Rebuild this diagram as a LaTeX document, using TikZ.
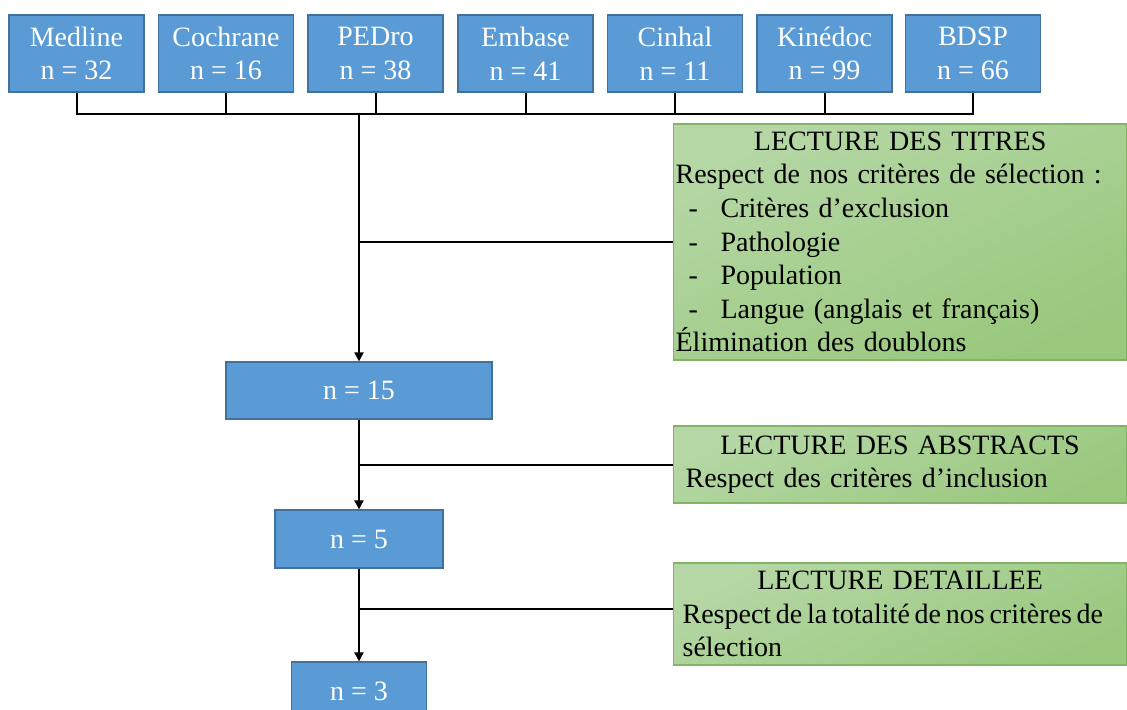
\documentclass[tikz,border=0pt]{standalone}
\usepackage{fontspec}
\setmainfont{Liberation Serif}
\usetikzlibrary{arrows.meta}
\definecolor{dbfill}{HTML}{5B9BD5}
\definecolor{dbdraw}{HTML}{41719C}
\definecolor{greentop}{HTML}{B5D7A5}
\definecolor{greenbot}{HTML}{99C87D}
\definecolor{greendraw}{HTML}{82B366}
\newcommand{\tiret}{\makebox[22.5pt][l]{\hspace*{6.5pt}-}}
\tikzset{every node/.style={font=\fontsize{14}{16.8}\selectfont}}

\begin{document}
\begin{tikzpicture}[x=0.5pt,y=-0.5pt,
  dbbox/.style={draw=dbdraw, fill=dbfill, text=white, line width=0.6pt,
    minimum width=67.5pt, minimum height=38.5pt, inner sep=0pt, align=center},
  filterbox/.style={draw=greendraw, top color=greentop, bottom color=greenbot,
    shading angle=25, line width=0.6pt, anchor=west, minimum width=226.5pt,
    inner ysep=0pt, align=left},
  link/.style={black, line width=1pt},
  flow/.style={link, -{Triangle[length=4.5pt,width=4.5pt]}}]
  \clip (0,0) rectangle (1127,709);
  % databases
  \node[dbbox] (medline)  at ( 76.5,53.5) {Medline\\n = 32};
  \node[dbbox] (cochrane) at (226.0,53.5) {Cochrane\\n = 16};
  \node[dbbox] (pedro)    at (375.5,53.5) {PEDro\\n = 38};
  \node[dbbox] (embase)   at (525.5,53.5) {Embase\\n = 41};
  \node[dbbox] (cinhal)   at (675.0,53.5) {Cinhal\\n = 11};
  \node[dbbox] (kinedoc)  at (824.5,53.5) {Kinédoc\\n = 99};
  \node[dbbox] (bdsp)     at (973.0,53.5) {BDSP\\n = 66};
  \coordinate (bar) at (359,114);
  \draw[link] (medline)  -- (medline |- bar);
  \draw[link] (cochrane) -- (cochrane |- bar);
  \draw[link] (pedro)    -- (pedro |- bar);
  \draw[link] (embase)   -- (embase |- bar);
  \draw[link] (cinhal)   -- (cinhal |- bar);
  \draw[link] (kinedoc)  -- (kinedoc |- bar);
  \draw[link] (bdsp)     -- (bdsp |- bar);
  \draw[link] ([xshift=-0.5pt]medline |- bar) -- ([xshift=0.5pt]bdsp |- bar);
  % selection steps
  \node[dbbox, minimum width=133pt, minimum height=28.5pt] (n15) at (359,390.5) {n = 15};
  \node[dbbox, minimum width=84pt,  minimum height=29pt]   (n5)  at (359,539)   {n = 5};
  \node[dbbox, minimum width=67.5pt, minimum height=29pt]  (n3)  at (359,691)   {n = 3};
  \draw[flow] (bar) -- (n15);
  \draw[flow] (n15) -- (n5);
  \draw[flow] (n5)  -- (n3);
  % criteria
  \node[filterbox, minimum height=118pt, inner xsep=1pt, text width=224.5pt] (titres) at (673,242)
    {\makebox[\linewidth]{LECTURE DES TITRES}\\
     Respect de nos critères de sélection~:\\
     \tiret Critères d’exclusion\\
     \tiret Pathologie\\
     \tiret Population\\
     \tiret Langue (anglais et français)\\
     Élimination des doublons};
  \node[filterbox, minimum height=38.5pt, inner xsep=6pt, text width=214.5pt] (abstracts) at (673,464.5)
    {\makebox[\linewidth]{LECTURE DES ABSTRACTS}\\
     Respect des critères d’inclusion};
  \node[filterbox, minimum height=51pt, inner xsep=4.5pt, text width=217.5pt] (detail) at (673,614)
    {\makebox[\linewidth]{LECTURE DETAILLEE}\\
     \makebox[\linewidth][l]{\spaceskip=0.17em Respect de la totalité de nos critères de}\\
     sélection};
  \coordinate (tap1) at (359,242);
  \coordinate (tap2) at (359,465);
  \coordinate (tap3) at (359,609);
  \draw[link] (tap1) -- (tap1 -| titres.west);
  \draw[link] (tap2) -- (tap2 -| abstracts.west);
  \draw[link] (tap3) -- (tap3 -| detail.west);
\end{tikzpicture}
\end{document}
